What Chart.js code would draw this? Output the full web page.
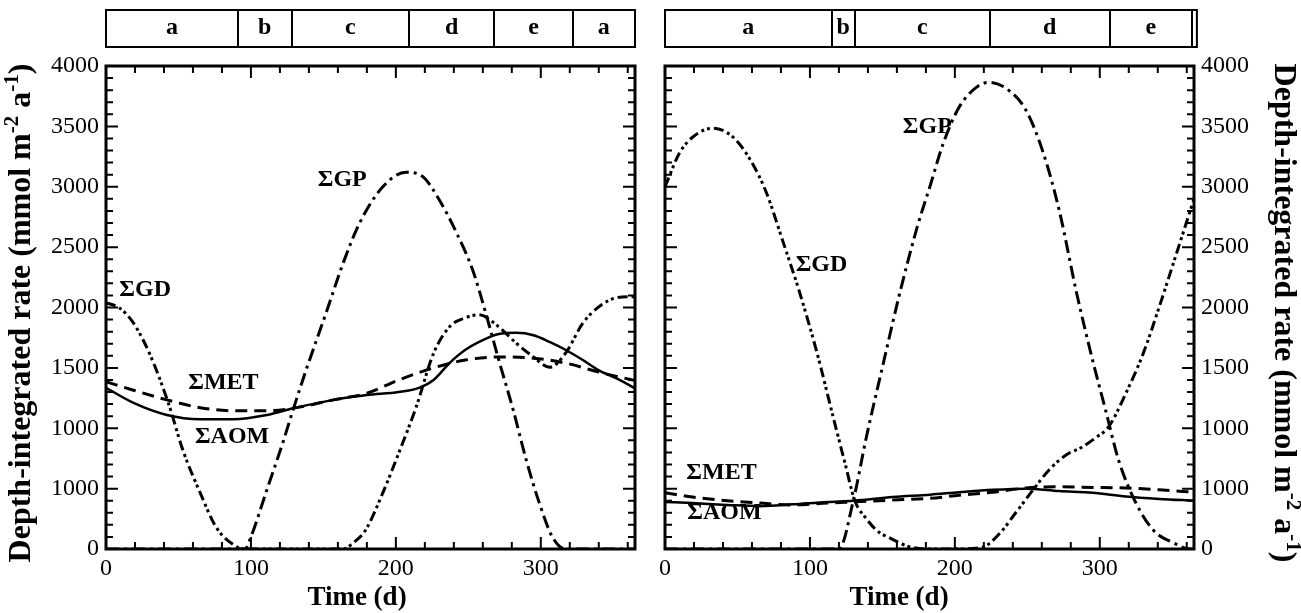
<!DOCTYPE html>
<html>
<head>
<meta charset="utf-8">
<script src="https://cdn.jsdelivr.net/npm/chart.js@4/dist/chart.umd.min.js"></script>
<style>
  body { margin: 0; background: #fff; width: 1301px; height: 613px; overflow: hidden; position: relative; }
  canvas { position: absolute; top: 0; }
  #left { left: 0; }
  #right { left: 650px; }
</style>
</head>
<body>
<canvas id="left" width="650" height="613"></canvas>
<canvas id="right" width="651" height="613"></canvas>
<script>
// ---- data (day of year, depth-integrated rate) ----
var xTickValues = [0, 100, 200, 300];
var yTickLabels = ['0', '1000', '1000', '1500', '2000', '2500', '3000', '3500', '4000'];

// left panel
var leftGdDays = [0, 10, 19, 30, 43, 53, 65, 76, 88, 95, 164, 170, 179, 191, 202, 214, 226, 237, 248, 257, 271, 283, 295, 306, 317, 329, 340, 352, 365];
var leftGdVals = [2040, 1990, 1870, 1620, 1210, 820, 465, 180, 35, 0, 0, 45, 155, 465, 795, 1175, 1620, 1840, 1915, 1940, 1840, 1705, 1590, 1505, 1620, 1870, 2005, 2080, 2090];
var leftGpDays = [0, 96, 100, 111, 122, 129, 138, 152, 164, 175, 191, 207, 219, 230, 242, 253, 262, 271, 281, 290, 299, 308, 317, 365];
var leftGpVals = [0, 0, 100, 490, 880, 1150, 1480, 1960, 2380, 2700, 3000, 3120, 3080, 2890, 2615, 2310, 1955, 1565, 1150, 735, 380, 100, 0, 0];
var leftMetDays = [0, 19, 42, 65, 88, 111, 129, 157, 180, 202, 226, 248, 271, 295, 317, 340, 365];
var leftMetVals = [1385, 1315, 1235, 1170, 1145, 1145, 1165, 1235, 1290, 1400, 1500, 1565, 1590, 1580, 1540, 1465, 1395];
var leftAomDays = [0, 19, 42, 65, 88, 111, 129, 157, 180, 202, 216, 226, 237, 248, 260, 271, 283, 295, 306, 317, 329, 340, 352, 365];
var leftAomVals = [1335, 1210, 1110, 1075, 1075, 1110, 1165, 1235, 1275, 1300, 1335, 1400, 1540, 1650, 1730, 1780, 1790, 1770, 1715, 1650, 1565, 1480, 1415, 1330];
var leftBandEdges = [0, 91, 128, 209, 268, 322, 365];
var leftBandLabels = ['a', 'b', 'c', 'd', 'e', 'a'];

// right panel
var rightGdDays = [0, 10, 19, 33, 47, 59, 70, 81, 93, 105, 116, 124, 131, 139, 146, 157, 167, 180, 200, 219, 231, 242, 254, 265, 277, 288, 297, 306, 318, 330, 341, 353, 365];
var rightGdVals = [3000, 3280, 3410, 3485, 3410, 3220, 2950, 2560, 2120, 1620, 1095, 720, 400, 250, 155, 80, 25, 0, 0, 15, 130, 300, 490, 655, 780, 845, 920, 1010, 1290, 1620, 2005, 2450, 2900];
var rightGpDays = [0, 120, 130, 139, 150, 162, 174, 183, 192, 203, 215, 224, 237, 249, 261, 272, 284, 295, 304, 313, 325, 337, 351, 362, 365];
var rightGpVals = [0, 0, 405, 930, 1505, 2120, 2665, 3010, 3360, 3660, 3825, 3865, 3800, 3635, 3280, 2805, 2120, 1565, 1150, 735, 380, 155, 50, 0, 0];
var rightMetDays = [0, 19, 43, 66, 88, 112, 130, 157, 183, 203, 226, 249, 272, 295, 318, 341, 365];
var rightMetVals = [465, 430, 400, 380, 365, 380, 390, 405, 420, 445, 470, 505, 515, 510, 505, 490, 470];
var rightAomDays = [0, 19, 43, 66, 88, 112, 130, 157, 183, 203, 226, 249, 272, 295, 318, 341, 365];
var rightAomVals = [390, 380, 365, 355, 370, 390, 400, 430, 450, 470, 490, 500, 480, 465, 435, 415, 400];
var rightBandEdges = [0, 115, 131, 224, 307, 363.5, 367];
var rightBandLabels = ['a', 'b', 'c', 'd', 'e', ''];

var SERIF = '"Liberation Serif", "Times New Roman", serif';

function pts(days, vals) {
  return days.map(function (d, i) { return { x: d, y: vals[i] }; });
}

function line(days, vals, dash, width) {
  return {
    data: pts(days, vals),
    borderColor: '#000',
    borderWidth: width,
    borderDash: dash,
    pointRadius: 0,
    fill: false,
    cubicInterpolationMode: 'monotone'
  };
}

// y title with raised exponents
function drawYTitle(ctx, cx, cy, angle) {
  var parts = [['Depth-integrated rate (mmol m', false], ['-2', true], [' a', false], ['-1', true], [')', false]];
  var big = 'bold 32px ' + SERIF, small = 'bold 21px ' + SERIF;
  var total = 0;
  parts.forEach(function (p) { ctx.font = p[1] ? small : big; total += ctx.measureText(p[0]).width; });
  ctx.save();
  ctx.translate(cx, cy);
  ctx.rotate(angle);
  ctx.fillStyle = '#000';
  ctx.textBaseline = 'middle';
  ctx.textAlign = 'left';
  var xx = -total / 2;
  parts.forEach(function (p) {
    ctx.font = p[1] ? small : big;
    ctx.fillText(p[0], xx, p[1] ? -9 : 0);
    xx += ctx.measureText(p[0]).width;
  });
  ctx.restore();
}

function decorations(cfg) {
  return {
    id: 'decor',
    afterDatasetsDraw: function (chart) {
      var ctx = chart.ctx, a = chart.chartArea, x = chart.scales.x, y = chart.scales.y;
      ctx.save();
      ctx.strokeStyle = '#000';
      // inward ticks on all four sides
      ctx.lineWidth = 2;
      ctx.beginPath();
      for (var v = 0; v <= 365; v += 20) {
        var px = x.getPixelForValue(v), len = v % 100 === 0 ? 12 : 7;
        ctx.moveTo(px, a.bottom); ctx.lineTo(px, a.bottom - len);
        ctx.moveTo(px, a.top); ctx.lineTo(px, a.top + len);
      }
      for (var w = 0; w <= 4000; w += 100) {
        var py = y.getPixelForValue(w), l2 = w % 500 === 0 ? 12 : 7;
        ctx.moveTo(a.left, py); ctx.lineTo(a.left + l2, py);
        ctx.moveTo(a.right, py); ctx.lineTo(a.right - l2, py);
      }
      ctx.stroke();
      ctx.lineWidth = 3;
      ctx.strokeRect(a.left, a.top, a.right - a.left, a.bottom - a.top);

      // curve names
      ctx.fillStyle = '#000';
      ctx.font = 'bold 24px ' + SERIF;
      ctx.textAlign = 'center';
      ctx.textBaseline = 'middle';
      cfg.notes.forEach(function (n) {
        ctx.fillText(n.text, x.getPixelForValue(n.x), y.getPixelForValue(n.y));
      });

      // season band above the plot
      var top = 10, bot = 47;
      ctx.lineWidth = 2;
      var e = cfg.edges;
      var x0 = x.getPixelForValue(e[0]), x1 = x.getPixelForValue(e[e.length - 1]);
      ctx.strokeRect(x0, top, x1 - x0, bot - top);
      ctx.beginPath();
      for (var i = 1; i < e.length - 1; i++) {
        var bx = Math.round(x.getPixelForValue(e[i]));
        ctx.moveTo(bx, top); ctx.lineTo(bx, bot);
      }
      ctx.stroke();
      ctx.font = 'bold 24px ' + SERIF;
      for (var k = 0; k < cfg.labels.length; k++) {
        var c = (x.getPixelForValue(e[k]) + x.getPixelForValue(e[k + 1])) / 2;
        ctx.fillText(cfg.labels[k], c, 28);
      }

      // axis titles
      ctx.font = 'bold 27px ' + SERIF;
      ctx.fillText('Time (d)', cfg.timeX, 598);
      drawYTitle(ctx, cfg.titleX, 313, cfg.side === 'left' ? -Math.PI / 2 : Math.PI / 2);
      ctx.restore();
    }
  };
}

function panel(id, side, sets, cfg) {
  var yWidth = side === 'left' ? 106 : 107;
  return new Chart(document.getElementById(id), {
    type: 'line',
    data: { datasets: sets },
    options: {
      responsive: false,
      animation: false,
      layout: { padding: side === 'left' ? { top: 66, left: 0, right: 15, bottom: 0 } : { top: 66, left: 15, right: 0, bottom: 0 } },
      plugins: { legend: { display: false }, tooltip: { enabled: false } },
      scales: {
        x: {
          type: 'linear', min: 0, max: 365,
          grid: { display: false, drawTicks: false },
          border: { display: false },
          afterBuildTicks: function (s) { s.ticks = xTickValues.map(function (v) { return { value: v }; }); },
          afterFit: function (s) { s.height = 64; },
          ticks: { color: '#000', padding: 5, font: { family: SERIF, size: 24 } }
        },
        y: {
          type: 'linear', min: 0, max: 4000, position: side,
          grid: { display: false, drawTicks: false },
          border: { display: false },
          afterFit: function (s) { s.width = yWidth; },
          ticks: {
            stepSize: 500, color: '#000', padding: 7, font: { family: SERIF, size: 24 },
            callback: function (v, i) { return yTickLabels[i]; }
          }
        }
      }
    },
    plugins: [decorations(cfg)]
  });
}

panel('left', 'left', [
  line(leftAomDays, leftAomVals, [], 2.5),
  line(leftMetDays, leftMetVals, [12, 7], 3),
  line(leftGpDays, leftGpVals, [13, 5, 3, 5], 3),
  line(leftGdDays, leftGdVals, [10, 4, 3, 3, 3, 4], 3)
], {
  side: 'left', edges: leftBandEdges, labels: leftBandLabels, timeX: 357, titleX: 22,
  notes: [
    { text: 'ΣGD', x: 27, y: 2150 },
    { text: 'ΣGP', x: 163, y: 3060 },
    { text: 'ΣMET', x: 81, y: 1375 },
    { text: 'ΣAOM', x: 87, y: 930 }
  ]
});

panel('right', 'right', [
  line(rightAomDays, rightAomVals, [], 2.5),
  line(rightMetDays, rightMetVals, [12, 7], 3),
  line(rightGpDays, rightGpVals, [13, 5, 3, 5], 3),
  line(rightGdDays, rightGdVals, [10, 4, 3, 3, 3, 4], 3)
], {
  side: 'right', edges: rightBandEdges, labels: rightBandLabels, timeX: 249, titleX: 633,
  notes: [
    { text: 'ΣGP', x: 181, y: 3495 },
    { text: 'ΣGD', x: 108, y: 2352 },
    { text: 'ΣMET', x: 39, y: 629 },
    { text: 'ΣAOM', x: 41, y: 298 }
  ]
});
</script>
</body>
</html>
